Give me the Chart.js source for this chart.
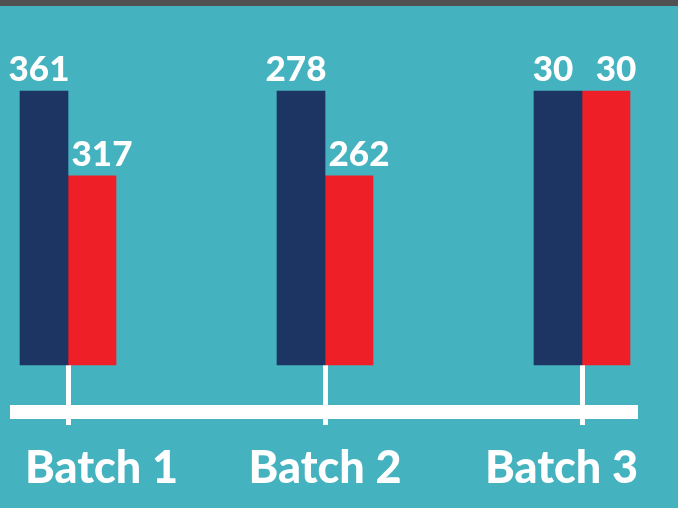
<!DOCTYPE html>
<html>
<head>
<meta charset="utf-8">
<script src="https://cdn.jsdelivr.net/npm/chart.js@4"></script>
<style>
  html, body { margin: 0; padding: 0; }
  body { width: 678px; height: 508px; overflow: hidden; }
  #wrap {
    position: relative; width: 678px; height: 508px;
    background: linear-gradient(#515151 0 6px, #44b2bf 6px);
  }
</style>
</head>
<body>
<div id="wrap"><canvas id="batchChart"></canvas></div>
<script>
// Comparación por lote
const batches = ['Batch 1', 'Batch 2', 'Batch 3'];
const blueValues = [361, 278, 30];
const redValues = [317, 262, 30];
// the graphic is not drawn to scale: drawn bar height as % of the tallest bar
const blueHeights = [100, 100, 100];
const redHeights = [69, 69, 100];

const labelFont = 'Lato, "Noto Sans", sans-serif';

// axis line, value labels and batch names
const batchLabels = {
    id: 'batchLabels',
    afterDatasetsDraw(chart) {
        const ctx = chart.ctx;
        const area = chart.chartArea;
        const xScale = chart.scales.x;
        const lineLeft = area.left - 58;
        const lineRight = area.right + 56;
        ctx.save();
        ctx.fillStyle = '#ffffff';
        ctx.fillRect(lineLeft, area.bottom + 40, lineRight - lineLeft, 14);

        ctx.textAlign = 'center';
        ctx.textBaseline = 'alphabetic';
        ctx.font = '900 35px ' + labelFont;
        const shown = [blueValues, redValues];
        const nudge = [-5, 10];
        chart.data.datasets.forEach((ds, d) => {
            chart.getDatasetMeta(d).data.forEach((bar, i) => {
                ctx.fillText(String(shown[d][i]), bar.x + nudge[d], bar.y - 10);
            });
        });

        ctx.font = '900 45px ' + labelFont;
        batches.forEach((name, i) => {
            const w = ctx.measureText(name).width;
            let x = xScale.getPixelForTick(i);
            x = Math.min(Math.max(x, lineLeft + 15 + w / 2), lineRight - w / 2);
            ctx.fillText(name, x, area.bottom + 118);
        });
        ctx.restore();
    }
};

const batchChart = new Chart(document.getElementById('batchChart'), {
    type: 'bar',
    data: {
        labels: batches,
        datasets: [{
            data: blueHeights,
            backgroundColor: '#1c3563',
            barThickness: 48,
            clip: false
        }, {
            data: redHeights,
            backgroundColor: '#ef1f27',
            barThickness: 48,
            clip: false
        }]
    },
    options: {
        responsive: true,
        maintainAspectRatio: false,
        animation: false,
        layout: {
            padding: { left: 68, right: 96, top: 91, bottom: 83 }
        },
        plugins: {
            legend: { display: false },
            tooltip: { enabled: false }
        },
        scales: {
            x: {
                offset: false,
                grid: {
                    offset: false,
                    drawOnChartArea: false,
                    drawTicks: true,
                    tickLength: 60,
                    color: '#ffffff',
                    lineWidth: 5
                },
                border: { display: false },
                ticks: { display: false }
            },
            y: {
                display: false,
                min: 0,
                max: 100
            }
        }
    },
    plugins: [batchLabels]
});
</script>
</body>
</html>
